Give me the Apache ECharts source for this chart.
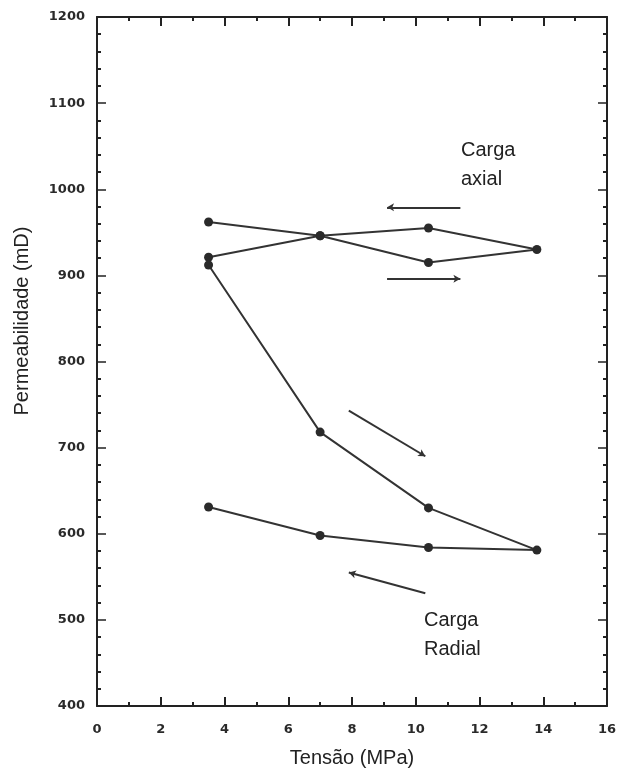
<!DOCTYPE html>
<html>
<head>
<meta charset="utf-8">
<script src="https://cdn.jsdelivr.net/npm/echarts@6/dist/echarts.min.js"></script>
<style>
  html, body { margin: 0; padding: 0; background: #fff; }
  #chart { width: 623px; height: 772px; }
</style>
</head>
<body>
<div id="chart"></div>
<script>
// Carga axial: carregamento (ida) e descarregamento (volta)
var axialTensao = [3.5, 7, 10.4, 13.8, 10.4, 7, 3.5]
var axialPerm = [962, 946, 915, 930, 955, 946, 921]
// Carga radial
var radialTensao = [3.5, 7, 10.4, 13.8, 10.4, 7, 3.5]
var radialPerm = [912, 718, 630, 581, 584, 598, 631]
// setas indicando o sentido do carregamento [[x1, y1], [x2, y2]]
var setas = [
  [[11.4, 979], [9.1, 979]],
  [[9.1, 896], [11.4, 896]],
  [[7.9, 743], [10.3, 690]],
  [[10.3, 531], [7.9, 555]]
]
var xTicks = [0, 2, 4, 6, 8, 10, 12, 14, 16]
var yTicks = [400, 500, 600, 700, 800, 900, 1000, 1100, 1200]

function pares (xs, ys) {
  return xs.map(function (x, i) { return [x, ys[i]] })
}

var chart = echarts.init(document.getElementById('chart'))
var tickFont = { color: '#2a2a2a', fontFamily: 'DejaVu Sans', fontWeight: 'bold', fontSize: 13 }
var titleFont = { color: '#222', fontFamily: 'Liberation Sans', fontSize: 20 }
var eixo = { show: true, onZero: false, lineStyle: { color: '#222', width: 2 } }

var option = {
  animation: false,
  grid: { left: 97, right: 16, top: 17, bottom: 66, outerBoundsMode: 'none' },
  xAxis: [{
    type: 'value',
    min: xTicks[0],
    max: xTicks[xTicks.length - 1],
    interval: 2,
    name: 'Tensão (MPa)',
    nameLocation: 'middle',
    nameGap: 42,
    nameTextStyle: titleFont,
    axisLine: eixo,
    axisTick: { inside: true, length: 9, lineStyle: { color: '#222', width: 2 } },
    minorTick: { show: true, splitNumber: 2, length: 4, lineStyle: { color: '#222', width: 2 } },
    axisLabel: Object.assign({ margin: 17 }, tickFont),
    splitLine: { show: false }
  }, {
    type: 'value',
    position: 'top',
    min: xTicks[0],
    max: xTicks[xTicks.length - 1],
    interval: 2,
    axisLine: eixo,
    axisTick: { inside: true, length: 9, lineStyle: { color: '#222', width: 2 } },
    minorTick: { show: true, splitNumber: 2, length: 4, lineStyle: { color: '#222', width: 2 } },
    axisLabel: { show: false },
    splitLine: { show: false }
  }],
  yAxis: [{
    type: 'value',
    min: yTicks[0],
    max: yTicks[yTicks.length - 1],
    interval: 100,
    axisLine: eixo,
    axisTick: { inside: true, length: 9, lineStyle: { color: '#222', width: 1.5 } },
    minorTick: { show: true, splitNumber: 5, length: 4, lineStyle: { color: '#222', width: 2 } },
    axisLabel: Object.assign({ margin: 12, formatter: function (v) { return String(v) } }, tickFont),
    splitLine: { show: false }
  }, {
    type: 'value',
    position: 'right',
    min: yTicks[0],
    max: yTicks[yTicks.length - 1],
    interval: 100,
    axisLine: eixo,
    axisTick: { inside: true, length: 9, lineStyle: { color: '#222', width: 1.5 } },
    minorTick: { show: true, splitNumber: 5, length: 4, lineStyle: { color: '#222', width: 2 } },
    axisLabel: { show: false },
    splitLine: { show: false }
  }],
  series: [{
    name: 'Carga axial',
    type: 'line',
    data: pares(axialTensao, axialPerm),
    symbol: 'circle',
    symbolSize: 9,
    itemStyle: { color: '#2a2a2a' },
    lineStyle: { color: '#333', width: 2 }
  }, {
    name: 'Carga radial',
    type: 'line',
    data: pares(radialTensao, radialPerm),
    symbol: 'circle',
    symbolSize: 9,
    itemStyle: { color: '#2a2a2a' },
    lineStyle: { color: '#333', width: 2 }
  }, {
    name: 'setas',
    type: 'line',
    data: [],
    markLine: {
      silent: true,
      symbol: ['none', 'arrow'],
      symbolSize: [6, 7],
      label: { show: false },
      lineStyle: { color: '#333', width: 2, type: 'solid' },
      data: setas.map(function (s) {
        return [{ coord: s[0] }, { coord: s[1] }]
      })
    }
  }],
  graphic: [{
    // titulo do eixo y (no original fica acima do centro do eixo)
    type: 'text',
    x: 22,
    y: 321,
    rotation: Math.PI / 2,
    style: {
      text: 'Permeabilidade (mD)',
      fill: '#222',
      font: '20px "Liberation Sans"',
      align: 'center',
      verticalAlign: 'middle'
    }
  }, {
    type: 'text',
    left: 461,
    top: 136,
    style: { text: 'Carga\naxial', fill: '#222', font: '20px "Liberation Sans"', lineHeight: 29 }
  }, {
    type: 'text',
    left: 424,
    top: 606,
    style: { text: 'Carga\nRadial', fill: '#222', font: '20px "Liberation Sans"', lineHeight: 29 }
  }]
}

chart.setOption(option)
</script>
</body>
</html>
